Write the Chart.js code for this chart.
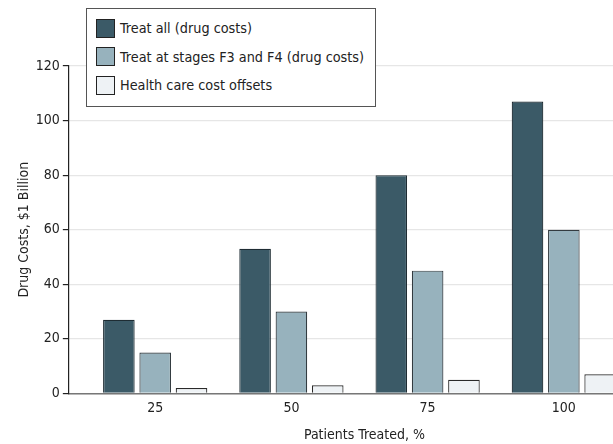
<!DOCTYPE html>
<html>
<head>
<meta charset="utf-8">
<script src="https://cdn.jsdelivr.net/npm/chart.js@4"></script>
<style>
  html, body { margin: 0; padding: 0; background: #fff; }
  body { width: 613px; height: 444px; overflow: hidden; position: relative;
         font-family: 'DejaVu Sans Condensed', 'DejaVu Sans', sans-serif; color: #222; }
  #wrap { position: absolute; left: 0; top: 0; width: 660px; height: 444px; }
  #legend { position: absolute; left: 86px; top: 8px; width: 290px; height: 99px;
            border: 1px solid #555; background: #fff; box-sizing: border-box; padding-top: 5px; }
  .item { display: flex; align-items: center; height: 28.5px; padding-left: 9px; font-size: 14.3px; }
  .sw { width: 17px; height: 17px; border: 1px solid #222; margin-right: 5px; }
</style>
</head>
<body>
<div id="wrap"><canvas id="chart"></canvas></div>
<div id="legend"></div>
<script>
const patientsTreated = [25, 50, 75, 100];
const treatAll = [27, 53, 80, 107];
const treatF3F4 = [15, 30, 45, 60];
const costOffsets = [2, 3, 5, 7];
const yTicks = [0, 20, 40, 60, 80, 100, 120];

const seriesNames = ['Treat all (drug costs)', 'Treat at stages F3 and F4 (drug costs)', 'Health care cost offsets'];
const fills = ['#3b5a67', '#97b2bd', '#eef2f5'];
const borders = ['#1e2c33', '#333b40', '#2a2a2a'];

const toPoints = arr => arr.map((v, i) => ({ x: patientsTreated[i], y: v }));

const fontStack = "'DejaVu Sans Condensed', 'DejaVu Sans', sans-serif";
Chart.defaults.font.family = fontStack;
Chart.defaults.font.size = 14;
Chart.defaults.color = '#222';

const ctx = document.getElementById('chart').getContext('2d');
const chart = new Chart(ctx, {
  type: 'bar',
  data: {
    datasets: [treatAll, treatF3F4, costOffsets].map((arr, i) => ({
      label: seriesNames[i],
      data: toPoints(arr),
      backgroundColor: fills[i],
      borderColor: borders[i],
      borderWidth: 1.2,
      categoryPercentage: 0.8,
      barPercentage: 0.87
    }))
  },
  options: {
    responsive: true,
    maintainAspectRatio: false,
    animation: false,
    layout: { padding: { top: 66, right: 0, left: 16, bottom: 0 } },
    plugins: { legend: { display: false }, tooltip: { enabled: false } },
    scales: {
      x: {
        type: 'linear',
        offset: false,
        min: 9.15,
        max: 117.65,
        afterBuildTicks: axis => { axis.ticks = patientsTreated.map(v => ({ value: v })); },
        grid: { display: false, drawTicks: false, tickLength: 0, offset: false },
        border: { color: '#777', width: 1.5 },
        ticks: { padding: 7, color: '#222' },
        title: { display: true, text: 'Patients Treated, %', padding: { top: 3, bottom: 0 }, color: '#222' }
      },
      y: {
        min: 0,
        max: 120,
        afterBuildTicks: axis => { axis.ticks = yTicks.map(v => ({ value: v })); },
        grid: { color: '#e6e6e6', tickColor: '#222', tickLength: 6, lineWidth: 1.2 },
        border: { color: '#222', width: 1.2 },
        ticks: { padding: 3, color: '#222' },
        title: { display: true, text: 'Drug Costs, $1 Billion', padding: { top: 0, bottom: 0 }, color: '#222' }
      }
    }
  }
});

// legend box drawn over the plot, as in the original figure
const legend = document.getElementById('legend');
chart.data.datasets.forEach(ds => {
  const row = document.createElement('div');
  row.className = 'item';
  const sw = document.createElement('span');
  sw.className = 'sw';
  sw.style.background = ds.backgroundColor;
  const txt = document.createElement('span');
  txt.textContent = ds.label;
  row.appendChild(sw);
  row.appendChild(txt);
  legend.appendChild(row);
});
</script>
</body>
</html>
